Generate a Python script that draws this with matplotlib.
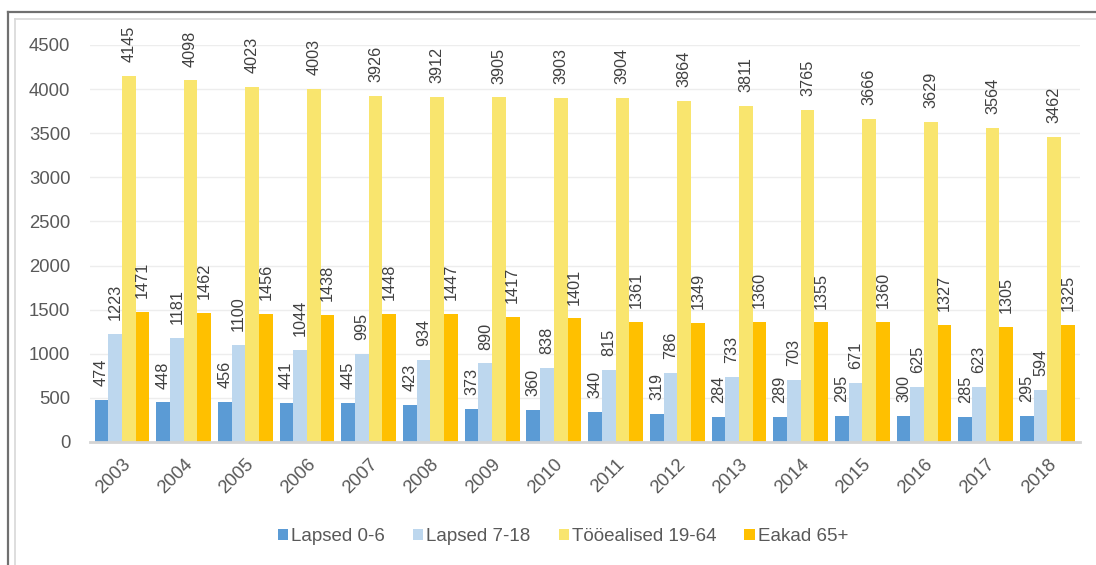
import matplotlib
matplotlib.use("Agg")
import matplotlib.pyplot as plt
from matplotlib.lines import Line2D
import numpy as np

plt.rcParams['font.family'] = ['Liberation Sans', 'DejaVu Sans']

# --- Data ---
years = [str(y) for y in range(2003, 2019)]
lapsed_0_6 = [474, 448, 456, 441, 445, 423, 373, 360, 340, 319, 284, 289, 295, 300, 285, 295]
lapsed_7_18 = [1223, 1181, 1100, 1044, 995, 934, 890, 838, 815, 786, 733, 703, 671, 625, 623, 594]
tooealised = [4145, 4098, 4023, 4003, 3926, 3912, 3905, 3903, 3904, 3864, 3811, 3765, 3666, 3629, 3564, 3462]
eakad = [1471, 1462, 1456, 1438, 1448, 1447, 1417, 1401, 1361, 1349, 1360, 1355, 1360, 1327, 1305, 1325]

series = [
    ("Lapsed 0-6", lapsed_0_6, '#5B9BD5'),
    ("Lapsed 7-18", lapsed_7_18, '#BDD7EE'),
    ("Tööealised 19-64", tooealised, '#F9E56E'),
    ("Eakad 65+", eakad, '#FFC000'),
]

TEXT = '#595959'

fig = plt.figure(figsize=(10.96, 5.65), dpi=100, facecolor='white')
ax = fig.add_axes([0.082, 0.2177, 0.903, 0.7027])

x = np.arange(len(years))
width = 0.222
for i, (name, vals, color) in enumerate(series):
    pos = x + (i - 1.5) * width
    bars = ax.bar(pos, vals, width=width, color=color, label=name, zorder=2)
    for b, v in zip(bars, vals):
        ax.annotate(str(v), (b.get_x() + b.get_width() / 2, v),
                    xytext=(0, 10), textcoords='offset points',
                    rotation=90, ha='center', va='bottom',
                    fontsize=11.7, color='#404040')

ax.set_xlim(-0.52, len(years) - 0.48)
ax.set_ylim(0, 4500)
ax.set_yticks(np.arange(0, 4501, 500))
ax.set_xticks(x)
ax.set_xticklabels(years, rotation=45, ha='right', rotation_mode='anchor')
ax.tick_params(axis='both', length=0, labelsize=13.3, colors=TEXT)
ax.tick_params(axis='y', pad=14)
ax.tick_params(axis='x', pad=10)

ax.grid(axis='y', color='#EDEDED', linewidth=1, zorder=0)
for s in ['top', 'right', 'left']:
    ax.spines[s].set_visible(False)
ax.spines['bottom'].set_color('#D4D4D4')
ax.spines['bottom'].set_linewidth(2)
ax.spines['bottom'].set_zorder(3)

leg = ax.legend(loc='center', bbox_to_anchor=(0.478, -0.239), ncol=4, frameon=False,
                fontsize=13.5, handlelength=0.55, handleheight=0.55, handletextpad=0.15,
                columnspacing=1.5)
for t in leg.get_texts():
    t.set_color(TEXT)

# Frame around the picture
W, H = 1096, 565
fig.add_artist(Line2D([8 / W, 8 / W], [0, 1 - 12 / H], color='#707070', linewidth=1.6,
                      transform=fig.transFigure))
fig.add_artist(Line2D([8 / W, 1], [1 - 12 / H, 1 - 12 / H], color='#707070', linewidth=1.6,
                      transform=fig.transFigure))
fig.add_artist(Line2D([15 / W, 15 / W], [0, 1 - 19 / H], color='#D8D8D8', linewidth=1.2,
                      transform=fig.transFigure))
fig.add_artist(Line2D([15 / W, 1], [1 - 19 / H, 1 - 19 / H], color='#D8D8D8', linewidth=1.2,
                      transform=fig.transFigure))

fig.savefig('out.png', dpi=100, facecolor='white')
